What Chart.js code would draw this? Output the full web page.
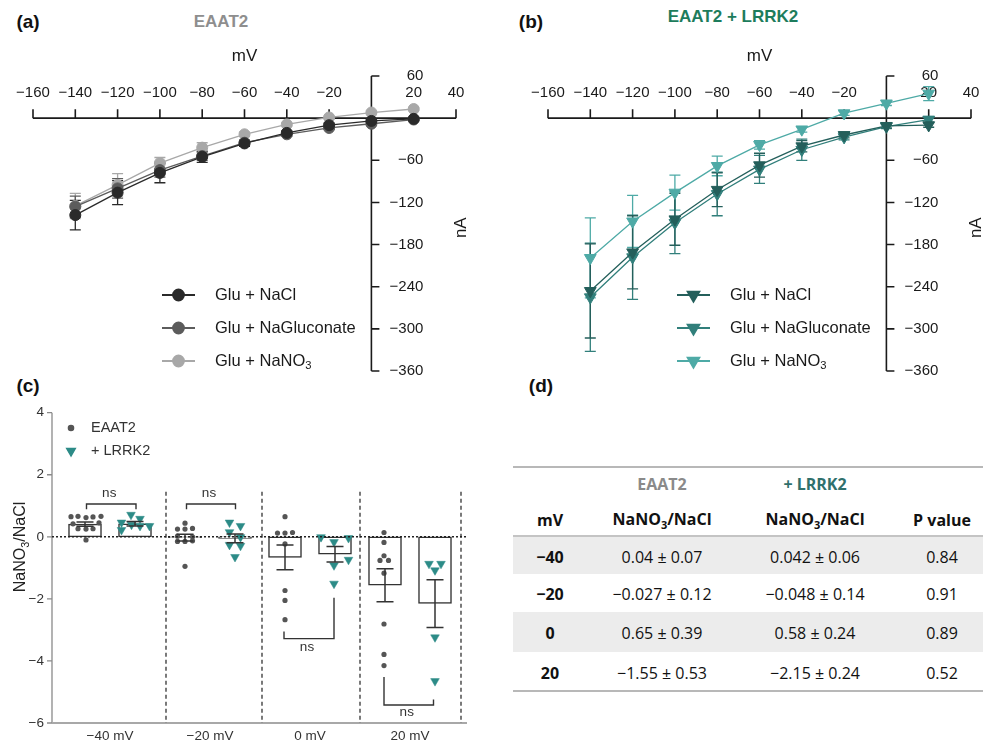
<!DOCTYPE html>
<html lang="en">
<head>
<meta charset="UTF-8">
<meta name="viewport" content="width=device-width, initial-scale=1.0">
<title>EAAT2 / LRRK2 anion currents</title>
<script src="https://cdn.jsdelivr.net/npm/chart.js"></script>
<style>
  body { margin: 0; background: #fff; }
  #fig { position: relative; width: 983px; height: 742px; overflow: hidden; font-family: Arial, "Liberation Sans", sans-serif; }
  #fig canvas { position: absolute; }
  .txt { position: absolute; transform: translate(-50%, -50%); white-space: nowrap; }
  .tag { font-size: 19px; font-weight: bold; color: #111; }
  .head { font-size: 17px; font-weight: bold; }
  .cell { position: absolute; transform: translate(-50%, -50%); white-space: nowrap; font-family: "Open Sans", "Noto Sans", sans-serif; font-size: 16px; color: #111; }
  .cell.b { font-weight: bold; }
  .rule { position: absolute; left: 513px; width: 470px; height: 2px; background: #b8b8b8; }
  .shade { position: absolute; left: 513px; width: 470px; background: #ececec; }
</style>
</head>
<body>
<div id="fig">
  <div class="txt tag" style="left:28px;top:22px">(a)</div>
  <div class="txt tag" style="left:531px;top:22px">(b)</div>
  <div class="txt tag" style="left:28px;top:386px">(c)</div>
  <div class="txt tag" style="left:541px;top:386px">(d)</div>
  <div class="txt head" style="left:221px;top:22px;color:#8e8e8e">EAAT2</div>
  <div class="txt head" style="left:733px;top:17px;color:#1d7c5c">EAAT2 + LRRK2</div>

  <canvas id="ivA" width="490" height="380" style="left:0;top:0"></canvas>
  <canvas id="ivB" width="493" height="380" style="left:490px;top:0"></canvas>
  <canvas id="ratio" width="480" height="362" style="left:0;top:380px"></canvas>
  <div id="table"></div>
</div>

<script>
  // ---- I-V curves (panels a, b) ----
  const voltages = [-140, -120, -100, -80, -60, -40, -20, 0, 20];
  const mvTicks = [-160, -140, -120, -100, -80, -60, -40, -20, 0, 20, 40];
  const naTicks = [-360, -300, -240, -180, -120, -60, 0, 60];

  // EAAT2 alone, nA
  const eaatNaCl = [-138, -106, -78, -55, -36, -21, -10, -4, -1];
  const eaatNaClErr = [21, 17, 14, 8, 4, 3, 3, 2, 2];
  const eaatGluc = [-126, -100, -74, -54, -35, -23, -14, -8, -2];
  const eaatGlucErr = [15, 14, 10, 6, 4, 3, 2, 2, 2];
  const eaatNO3 = [-125, -95, -64, -42, -23, -9, 1, 8, 13];
  const eaatNO3Err = [18, 16, 8, 7, 3, 2, 2, 2, 2];

  // EAAT2 + LRRK2, nA
  const lrrkNaCl = [-246, -191, -144, -102, -67, -40, -24, -11, -10];
  const lrrkNaClErr = [67, 52, 37, 24, 17, 8, 4, 3, 3];
  const lrrkGluc = [-255, -198, -149, -108, -73, -45, -27, -12, -2];
  const lrrkGlucErr = [77, 60, 44, 31, 20, 15, 4, 3, 4];
  const lrrkNO3 = [-199, -147, -106, -68, -38, -16, 7, 21, 35];
  const lrrkNO3Err = [57, 37, 25, 14, 6, 4, 3, 3, 10];

  const seriesLabels = ['Glu + NaCl', 'Glu + NaGluconate', 'Glu + NaNO'];

  // ---- NaNO3/NaCl ratios (panel c) ----
  const ratioGroups = ['\u221240 mV', '\u221220 mV', '0 mV', '20 mV'];
  const ratioTicks = [4, 2, 0, -2, -4, -6];
  const eaatMean = [0.41, -0.027, -0.66, -1.56];
  const eaatSem = [0.07, 0.11, 0.40, 0.53];
  const lrrkMean = [0.42, -0.048, -0.56, -2.15];
  const lrrkSem = [0.07, 0.14, 0.25, 0.77];

  const eaatCells = [
    [0.65, 0.66, 0.62, 0.64, 0.66, 0.42, 0.45, 0.26, 0.25, 0.26, -0.10],
    [0.44, 0.25, 0.25, 0.27, 0.02, 0.00, -0.15, -0.15, -0.13, -0.95],
    [0.65, 0.12, 0.12, 0.14, -0.23, -1.73, -2.05, -2.67],
    [0.14, -0.18, -0.61, -0.76, -0.76, -1.17, -2.81, -3.79, -4.15]
  ];
  const eaatJitter = [
    [-0.28, -0.14, 0.02, 0.16, 0.32, -0.24, 0.28, -0.14, 0.02, 0.16, 0.02],
    [0, -0.15, 0, 0.15, -0.15, 0.15, -0.15, 0, 0.15, 0],
    [0, -0.15, 0, 0.15, 0, 0, 0, 0],
    [-0.02, -0.02, -0.02, -0.1, 0.07, -0.02, -0.02, -0.02, -0.02]
  ];
  const lrrkCells = [
    [0.71, 0.46, 0.58, 0.35, 0.22, 0.39, 0.35],
    [0.46, 0.35, 0.15, -0.01, -0.26, -0.29, -0.65],
    [-0.01, -0.17, -0.04, -0.74, -0.92, -1.51],
    [-0.87, -0.87, -1.08, -3.24, -4.65]
  ];
  const lrrkJitter = [
    [-0.08, -0.27, 0.1, 0.29, -0.27, -0.07, 0.1],
    [-0.11, 0.11, -0.11, 0.11, -0.11, 0.11, 0],
    [-0.28, -0.02, 0.27, 0.27, -0.02, -0.02],
    [-0.12, 0.12, 0, 0, 0]
  ];
  const separatorX = [1.62, 3.54, 5.5, 7.52];
  // [x left, x right, bar y, left end, right end, label y]
  const nsBrackets = [
    [0.03, 1.02, 1.06, 0.89, 0.89, 1.41],
    [2.03, 3.01, 1.06, 0.89, 0.89, 1.41],
    [3.98, 4.98, -3.28, -3.05, -1.96, -3.56],
    [5.98, 6.97, -5.42, -4.52, -5.24, -5.66]
  ];

  // ---- table (panel d) ----
  const tableMv = ['\u221240', '\u221220', '0', '20'];
  const tableEaat = ['0.04 \u00b1 0.07', '\u22120.027 \u00b1 0.12', '0.65 \u00b1 0.39', '\u22121.55 \u00b1 0.53'];
  const tableLrrk = ['0.042 \u00b1 0.06', '\u22120.048 \u00b1 0.14', '0.58 \u00b1 0.24', '\u22122.15 \u00b1 0.24'];
  const tableP = ['0.84', '0.91', '0.89', '0.52'];

  const FONT = 'Arial, "Liberation Sans", sans-serif';
  const fmt = v => (v < 0 ? '\u2212' + Math.abs(v) : String(v));

  // text with a subscript "3" after the main part
  function subText(ctx, main, sub, rest, x, y, size, align) {
    ctx.font = size + 'px ' + FONT;
    const w1 = ctx.measureText(main).width;
    const w3 = ctx.measureText(rest).width;
    ctx.font = (size * 0.68) + 'px ' + FONT;
    const w2 = ctx.measureText(sub).width;
    let sx = align === 'center' ? x - (w1 + w2 + w3) / 2 : x;
    ctx.textAlign = 'left';
    ctx.font = size + 'px ' + FONT;
    ctx.fillText(main, sx, y);
    ctx.font = (size * 0.68) + 'px ' + FONT;
    ctx.fillText(sub, sx + w1, y + size * 0.3);
    ctx.font = size + 'px ' + FONT;
    ctx.fillText(rest, sx + w1 + w2, y);
  }

  const ivAxes = {
    id: 'ivAxes',
    beforeDatasetsDraw(chart, args, o) {
      const { ctx, scales: { x, y } } = chart;
      const x0 = x.getPixelForValue(0), y0 = y.getPixelForValue(0);
      ctx.save();
      ctx.strokeStyle = '#1a1a1a';
      ctx.lineWidth = 1.6;
      ctx.beginPath();
      ctx.moveTo(x.getPixelForValue(mvTicks[0]), y0);
      ctx.lineTo(x.getPixelForValue(mvTicks[mvTicks.length - 1]), y0);
      mvTicks.forEach(v => {
        if (v === 0) return;
        const px = x.getPixelForValue(v);
        ctx.moveTo(px, y0); ctx.lineTo(px, y0 - 9);
      });
      ctx.moveTo(x0, y.getPixelForValue(naTicks[0]));
      ctx.lineTo(x0, y.getPixelForValue(naTicks[naTicks.length - 1]));
      naTicks.forEach(v => {
        if (v === 0) return;
        const py = y.getPixelForValue(v);
        ctx.moveTo(x0, py); ctx.lineTo(x0 + 8, py);
      });
      ctx.stroke();

      ctx.fillStyle = '#1a1a1a';
      ctx.font = '15px ' + FONT;
      ctx.textAlign = 'center';
      ctx.textBaseline = 'middle';
      mvTicks.forEach(v => { if (v !== 0) ctx.fillText(fmt(v), x.getPixelForValue(v), y0 - 25); });
      ctx.textAlign = 'right';
      naTicks.forEach(v => { if (v !== 0) ctx.fillText(fmt(v), x0 + 52, y.getPixelForValue(v)); });

      ctx.font = '17px ' + FONT;
      ctx.textAlign = 'center';
      ctx.fillText('mV', x.getPixelForValue(-60), y0 - 62);
      ctx.save();
      ctx.translate(x0 + 90, y.getPixelForValue(-156));
      ctx.rotate(-Math.PI / 2);
      ctx.fillText('nA', 0, 0);
      ctx.restore();

      // error bars, last series first so the first one ends on top
      for (let i = chart.data.datasets.length - 1; i >= 0; i--) {
        const ds = chart.data.datasets[i];
        const meta = chart.getDatasetMeta(i);
        ctx.strokeStyle = ds.borderColor;
        ctx.lineWidth = 1.3;
        ctx.beginPath();
        meta.data.forEach((pt, j) => {
          const v = ds.data[j].y, e = ds.errors[j];
          const top = y.getPixelForValue(v + e), bot = y.getPixelForValue(v - e);
          ctx.moveTo(pt.x, top); ctx.lineTo(pt.x, bot);
          ctx.moveTo(pt.x - 5.5, top); ctx.lineTo(pt.x + 5.5, top);
          ctx.moveTo(pt.x - 5.5, bot); ctx.lineTo(pt.x + 5.5, bot);
        });
        ctx.stroke();
      }
      ctx.restore();
    },
    afterDraw(chart, args, o) {
      const ctx = chart.ctx;
      ctx.save();
      ctx.textBaseline = 'middle';
      chart.data.datasets.forEach((ds, i) => {
        const ly = o.rowY[i];
        ctx.strokeStyle = ds.borderColor;
        ctx.fillStyle = ds.borderColor;
        ctx.lineWidth = 1.8;
        ctx.beginPath();
        ctx.moveTo(o.lineX, ly); ctx.lineTo(o.lineX + 33, ly);
        ctx.stroke();
        Chart.helpers.drawPoint(ctx, {
          pointStyle: ds.pointStyle, rotation: ds.rotation,
          radius: ds.pointRadius, borderWidth: 1
        }, o.lineX + 16.5, ly);
        ctx.fillStyle = '#1a1a1a';
        if (i === 2) subText(ctx, ds.label, '3', '', o.textX, ly, 16.5, 'left');
        else {
          ctx.font = '16.5px ' + FONT;
          ctx.textAlign = 'left';
          ctx.fillText(ds.label, o.textX, ly);
        }
      });
      ctx.restore();
    }
  };

  function ivChart(id, values, errors, colors, style, padding, legend) {
    return new Chart(document.getElementById(id), {
      type: 'line',
      data: {
        datasets: values.map((vals, i) => ({
          label: seriesLabels[i],
          data: voltages.map((v, j) => ({ x: v, y: vals[j] })),
          errors: errors[i],
          borderColor: colors[i],
          backgroundColor: colors[i],
          pointBackgroundColor: colors[i],
          borderWidth: 1.3,
          pointBorderWidth: 1,
          pointRadius: style.radius,
          pointStyle: style.shape,
          rotation: style.rotation,
          pointRotation: style.rotation,
          tension: 0,
          clip: false
        }))
      },
      options: {
        responsive: false,
        animation: false,
        devicePixelRatio: 1,
        layout: { padding },
        scales: {
          x: { type: 'linear', min: -160, max: 40, display: false },
          y: { type: 'linear', min: -360, max: 60, display: false }
        },
        plugins: { legend: { display: false }, tooltip: { enabled: false }, ivAxes: legend }
      },
      plugins: [ivAxes]
    });
  }

  ivChart('ivA', [eaatNaCl, eaatGluc, eaatNO3], [eaatNaClErr, eaatGlucErr, eaatNO3Err],
    ['#2a2a2a', '#5c5c5c', '#a8a8a8'], { shape: 'circle', radius: 5.5, rotation: 0 },
    { left: 33, right: 34, top: 76, bottom: 9 },
    { lineX: 162, textX: 215, rowY: [295, 328, 361] });

  ivChart('ivB', [lrrkNaCl, lrrkGluc, lrrkNO3], [lrrkNaClErr, lrrkGlucErr, lrrkNO3Err],
    ['#245f5b', '#317f7b', '#4eaaa6'], { shape: 'triangle', radius: 6.8, rotation: 180 },
    { left: 58, right: 12, top: 76, bottom: 9 },
    { lineX: 187, textX: 240, rowY: [295, 328, 361] });

  // ---- panel c ----
  const ratioDecor = {
    id: 'ratioDecor',
    beforeDatasetsDraw(chart) {
      const { ctx, chartArea: a, scales: { x, y } } = chart;
      ctx.save();
      ctx.strokeStyle = '#8a8a8a';
      ctx.lineWidth = 1.3;
      ctx.beginPath();
      ctx.moveTo(a.left, y.getPixelForValue(4));
      ctx.lineTo(a.left, y.getPixelForValue(-6));
      ratioTicks.forEach(v => {
        const py = y.getPixelForValue(v);
        ctx.moveTo(a.left - 5, py); ctx.lineTo(a.left, py);
      });
      ctx.stroke();
      ctx.strokeStyle = '#a8a8a8';
      ctx.lineWidth = 2;
      ctx.beginPath();
      ctx.moveTo(a.left, a.bottom); ctx.lineTo(a.right, a.bottom);
      ctx.stroke();
      ctx.strokeStyle = '#333';
      ctx.lineWidth = 1.3;
      ctx.setLineDash([4, 3]);
      ctx.beginPath();
      separatorX.forEach(v => {
        const px = x.getPixelForValue(v);
        ctx.moveTo(px, y.getPixelForValue(1.45)); ctx.lineTo(px, a.bottom);
      });
      ctx.stroke();
      ctx.restore();
    },
    afterDatasetsDraw(chart) {
      const { ctx, chartArea: a, scales: { x, y } } = chart;
      ctx.save();
      // zero line
      ctx.strokeStyle = '#222';
      ctx.lineWidth = 1.5;
      ctx.setLineDash([2, 2]);
      ctx.beginPath();
      ctx.moveTo(a.left, y.getPixelForValue(0)); ctx.lineTo(a.right, y.getPixelForValue(0));
      ctx.stroke();
      ctx.setLineDash([]);

      // mean +/- SEM
      ctx.strokeStyle = '#333';
      ctx.lineWidth = 1.5;
      ctx.beginPath();
      [[eaatMean, eaatSem, 0], [lrrkMean, lrrkSem, 1]].forEach(([m, s, off]) => {
        m.forEach((v, g) => {
          const px = x.getPixelForValue(2 * g + off);
          const top = y.getPixelForValue(v + s[g]), bot = y.getPixelForValue(v - s[g]);
          ctx.moveTo(px, top); ctx.lineTo(px, bot);
          ctx.moveTo(px - 8.5, top); ctx.lineTo(px + 8.5, top);
          ctx.moveTo(px - 8.5, bot); ctx.lineTo(px + 8.5, bot);
        });
      });
      ctx.stroke();

      // ns brackets
      ctx.lineWidth = 1.4;
      ctx.beginPath();
      nsBrackets.forEach(([xl, xr, yb, yl, yr]) => {
        ctx.moveTo(x.getPixelForValue(xl), y.getPixelForValue(yl));
        ctx.lineTo(x.getPixelForValue(xl), y.getPixelForValue(yb));
        ctx.lineTo(x.getPixelForValue(xr), y.getPixelForValue(yb));
        ctx.lineTo(x.getPixelForValue(xr), y.getPixelForValue(yr));
      });
      ctx.stroke();

      ctx.fillStyle = '#333';
      ctx.font = '13.5px ' + FONT;
      ctx.textAlign = 'center';
      ctx.textBaseline = 'middle';
      nsBrackets.forEach(([xl, xr, yb, yl, yr, yt]) => {
        ctx.fillText('ns', x.getPixelForValue((xl + xr) / 2) - 2, y.getPixelForValue(yt));
      });
      ratioGroups.forEach((g, i) => ctx.fillText(g, x.getPixelForValue(2 * i + 0.5), a.bottom + 13));
      ctx.textAlign = 'right';
      ratioTicks.forEach(v => ctx.fillText(fmt(v), a.left - 8, y.getPixelForValue(v)));

      // y title
      ctx.save();
      ctx.translate(a.left - 31, 167);
      ctx.rotate(-Math.PI / 2);
      ctx.fillStyle = '#222';
      subText(ctx, 'NaNO', '3', '/NaCl', 0, 0, 16, 'center');
      ctx.restore();

      // legend
      const ds = chart.data.datasets;
      [[ds[2], 'EAAT2', 48], [ds[3], '+ LRRK2', 71]].forEach(([d, txt, ly]) => {
        ctx.fillStyle = d.backgroundColor;
        ctx.strokeStyle = d.backgroundColor;
        Chart.helpers.drawPoint(ctx, { pointStyle: d.pointStyle, rotation: d.rotation, radius: d.pointRadius, borderWidth: 0.5 }, 71, ly);
        ctx.fillStyle = '#333';
        ctx.font = '14.5px ' + FONT;
        ctx.textAlign = 'left';
        ctx.fillText(txt, 91, ly);
      });
      ctx.restore();
    }
  };

  const cellPoints = (cells, jitter, off) =>
    cells.flatMap((vals, g) => vals.map((v, k) => ({ x: 2 * g + off + jitter[g][k], y: v })));

  new Chart(document.getElementById('ratio'), {
    type: 'bar',
    data: {
      datasets: [
        { type: 'bar', data: eaatMean.map((v, g) => ({ x: 2 * g, y: v })), backgroundColor: '#fff', borderColor: '#333', borderWidth: 1.5, borderSkipped: false, barThickness: 33, grouped: false, order: 2 },
        { type: 'bar', data: lrrkMean.map((v, g) => ({ x: 2 * g + 1, y: v })), backgroundColor: '#fff', borderColor: '#333', borderWidth: 1.5, borderSkipped: false, barThickness: 33, grouped: false, order: 2 },
        { type: 'scatter', data: cellPoints(eaatCells, eaatJitter, 0), backgroundColor: '#555', borderColor: '#555', pointStyle: 'circle', pointRadius: 2.6, borderWidth: 0, rotation: 0, order: 1 },
        { type: 'scatter', data: cellPoints(lrrkCells, lrrkJitter, 1), backgroundColor: '#2c8b87', borderColor: '#2c8b87', pointStyle: 'triangle', pointRadius: 5, borderWidth: 0.5, rotation: 180, order: 1 }
      ]
    },
    options: {
      responsive: false,
      animation: false,
      devicePixelRatio: 1,
      layout: { padding: { left: 52, right: 13, top: 32.7, bottom: 19 } },
      scales: {
        x: { type: 'linear', min: -0.66, max: 7.64, offset: false, display: false },
        y: { type: 'linear', min: -6, max: 4, display: false }
      },
      plugins: { legend: { display: false }, tooltip: { enabled: false } }
    },
    plugins: [ratioDecor]
  });

  // ---- panel d table ----
  const table = document.getElementById('table');
  const colX = [550, 662, 815, 942];
  const rowY = [557, 594, 633, 673];
  let html = '';
  html += '<div class="shade" style="top:536px;height:38px"></div>';
  html += '<div class="shade" style="top:612px;height:40px"></div>';
  html += '<div class="rule" style="top:466px"></div>';
  html += '<div class="rule" style="top:535px;background:#c4c4c4"></div>';
  html += '<div class="rule" style="top:690px"></div>';
  html += `<div class="cell b" style="left:${colX[1]}px;top:484px;color:#8a8a8a">EAAT2</div>`;
  html += `<div class="cell b" style="left:${colX[2]}px;top:484px;color:#2f706c">+ LRRK2</div>`;
  html += `<div class="cell b" style="left:${colX[0]}px;top:520px">mV</div>`;
  html += `<div class="cell b" style="left:${colX[1]}px;top:520px">NaNO<sub style="font-size:11px">3</sub>/NaCl</div>`;
  html += `<div class="cell b" style="left:${colX[2]}px;top:520px">NaNO<sub style="font-size:11px">3</sub>/NaCl</div>`;
  html += `<div class="cell b" style="left:${colX[3]}px;top:520px">P value</div>`;
  tableMv.forEach((mv, i) => {
    html += `<div class="cell b" style="left:${colX[0]}px;top:${rowY[i]}px">${mv}</div>`;
    html += `<div class="cell" style="left:${colX[1]}px;top:${rowY[i]}px">${tableEaat[i]}</div>`;
    html += `<div class="cell" style="left:${colX[2]}px;top:${rowY[i]}px">${tableLrrk[i]}</div>`;
    html += `<div class="cell" style="left:${colX[3]}px;top:${rowY[i]}px">${tableP[i]}</div>`;
  });
  table.innerHTML = html;
</script>
</body>
</html>
